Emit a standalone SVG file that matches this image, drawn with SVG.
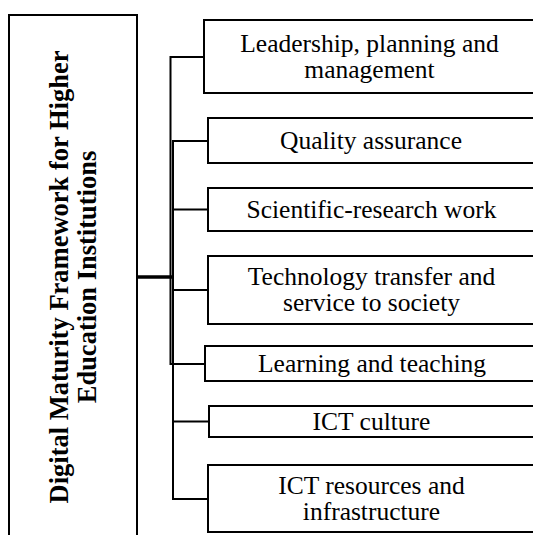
<svg xmlns="http://www.w3.org/2000/svg" width="533" height="535" viewBox="0 0 533 535">
<style>
.box{fill:#fff;stroke:#000;stroke-width:2}
.lbl{font-family:"Liberation Serif","Times New Roman",serif;font-size:25.5px;fill:#000;text-anchor:middle}
.ttl{font-family:"Liberation Serif","Times New Roman",serif;font-size:26.5px;font-weight:bold;fill:#000;text-anchor:middle}
.ln{fill:none;stroke:#000;stroke-width:2}
</style>
<rect width="533" height="535" fill="#fff"/>
<g id="connectors">
<line class="ln" x1="137" y1="277" x2="172" y2="277" style="stroke-width:3.5"/>
<path class="ln" d="M204 57 H170.5 V364 H205"/>
<path class="ln" d="M208 141 H173 V499 H208"/>
<line class="ln" x1="173" y1="209.5" x2="208" y2="209.5"/>
<line class="ln" x1="173" y1="290" x2="208" y2="290"/>
<line class="ln" x1="173" y1="421.5" x2="209" y2="421.5"/>
</g>
<g id="root">
<rect class="box" x="9" y="15" width="128" height="530"/>
<text class="ttl" transform="translate(68,277) rotate(-90)"><tspan x="0" y="0">Digital Maturity Framework for Higher</tspan><tspan x="0" y="28">Education Institutions</tspan></text>
</g>
<g id="n1">
<rect class="box" x="204" y="20" width="340" height="73"/>
<text class="lbl"><tspan x="369.5" y="51.5">Leadership, planning and</tspan><tspan x="369.5" y="77.5">management</tspan></text>
</g>
<g id="n2">
<rect class="box" x="208" y="118" width="340" height="45"/>
<text class="lbl" x="371" y="148.5">Quality assurance</text>
</g>
<g id="n3">
<rect class="box" x="208" y="188" width="340" height="43"/>
<text class="lbl" x="371.5" y="217.5">Scientific-research work</text>
</g>
<g id="n4">
<rect class="box" x="208" y="256" width="340" height="68"/>
<text class="lbl"><tspan x="371.5" y="285">Technology transfer and</tspan><tspan x="371.5" y="311">service to society</tspan></text>
</g>
<g id="n5">
<rect class="box" x="205" y="346" width="340" height="35"/>
<text class="lbl" x="372" y="372">Learning and teaching</text>
</g>
<g id="n6">
<rect class="box" x="209" y="406" width="340" height="31"/>
<text class="lbl" x="371.5" y="430">ICT culture</text>
</g>
<g id="n7">
<rect class="box" x="208" y="465" width="340" height="67"/>
<text class="lbl"><tspan x="371.5" y="493.5">ICT resources and</tspan><tspan x="371.5" y="519.5">infrastructure</tspan></text>
</g>
</svg>
